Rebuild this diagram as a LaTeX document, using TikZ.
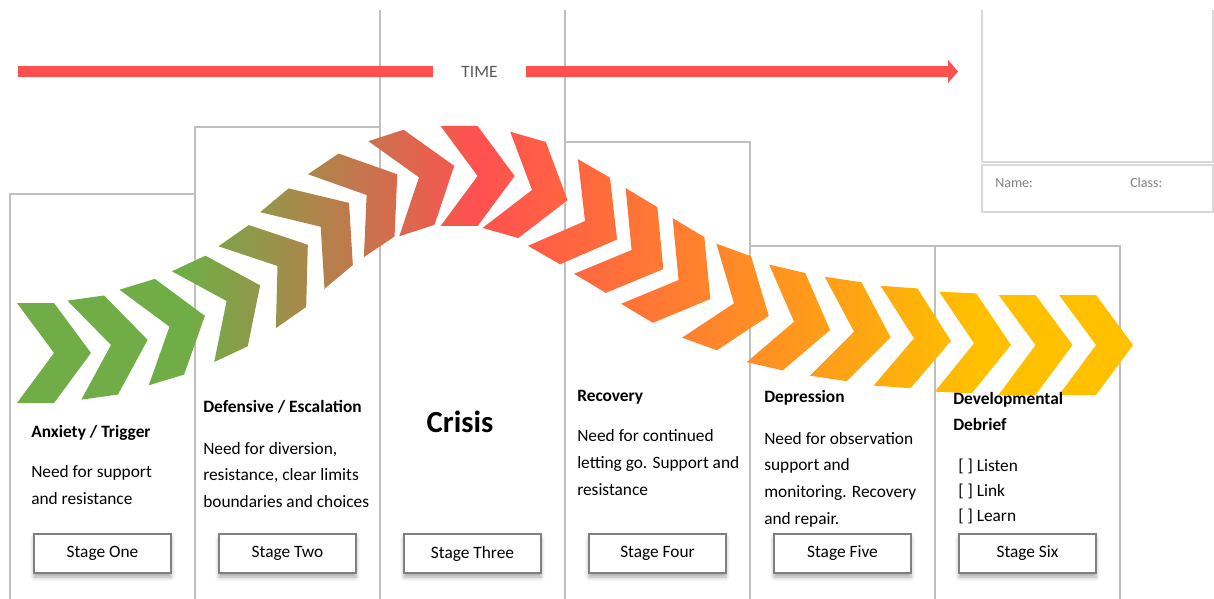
\documentclass[tikz,border=0pt]{standalone}
\usepackage{fontspec}
\setmainfont{Carlito}
\usetikzlibrary{arrows.meta,shadows.blur,positioning}
\definecolor{chgreen}{HTML}{70AD47}
\definecolor{chred}{HTML}{FF5050}
\definecolor{chyellow}{HTML}{FFC000}
\definecolor{colgray}{HTML}{BFBFBF}
\definecolor{boxgray}{HTML}{D9D9D9}
\definecolor{stagegray}{HTML}{7F7F7F}
\definecolor{labelgray}{HTML}{595959}
\pgfdeclarehorizontalshading{chevfade}{100bp}{color(0bp)=(chgreen); color(32.7bp)=(chgreen); color(45.6bp)=(chred); color(68bp)=(chyellow); color(100bp)=(chyellow)}

\begin{document}
\begin{tikzpicture}[x=0.75pt, y=-0.75pt, node distance=138.75pt,
  col/.style={draw=colgray, line width=1.1pt},
  corner/.style={draw=boxgray, line width=1.4pt},
  timebar/.style={draw=chred, line width=7.9pt},
  head/.style={anchor=base west, inner sep=0, font=\fontsize{13}{19.5}\selectfont\bfseries},
  body/.style={anchor=north west, inner sep=0, align=left, font=\fontsize{13}{20}\selectfont},
  stagebox/.style={draw=stagegray, line width=1.2pt, fill=white, minimum width=102.75pt, minimum height=29.25pt, inner sep=0, font=\fontsize{13}{16}\selectfont, blur shadow={shadow xshift=0pt, shadow yshift=-3pt, shadow blur radius=3pt, shadow opacity=35}},
  small/.style={anchor=base west, inner sep=0, text=stagegray, font=\fontsize{10.5}{12}\selectfont}]
	\useasboundingbox (0,0) rectangle (1214,599);
	\draw[col] (10,599) -- (10,194) -- (195,194);
	\draw[col] (195,599) -- (195,127) -- (380,127);
	\draw[col] (380,599) -- (380,10);
	\draw[col] (565,599) -- (565,10);
	\draw[col] (565,142) -- (750,142) -- (750,599);
	\draw[col] (750,246) -- (1120,246) -- (1120,599);
	\draw[col] (935,246) -- (935,599);
	\draw[corner] (982,10) -- (982,162) -- (1213,162) -- (1213,10);
	\draw[corner] (982,165) rectangle (1213,212);
	\node[small] (name) at (995,188) {Name:};
	\node[small] (class) at (1130,188) {Class:};
	\node[inner sep=0, minimum width=69.75pt, text=labelgray, font=\fontsize{13}{16}\selectfont] (time) at (479.5,71.5) {TIME};
	\coordinate (tstart) at (18,71.5);
	\coordinate (tend) at (958,71.5);
	\draw[timebar] (tstart) -- (time);
	\draw[timebar, -{Triangle[length=7.5pt, width=17pt]}] (time) -- (tend);
	\shade[shading=chevfade] \foreach \cx/\cy/\ca in {54/353/0, 111/345/8, 169.5/326.7/17, 226.6/301/25, 277.5/266/35, 320.7/226.7/40, 366.6/195/34, 419/177.3/18, 477.6/176/0, 532/190/-16, 585/221/-30, 631.6/250/-31, 678.6/280/-31, 734/303.3/-20, 794/321.7/-13, 854/331.7/-8.5, 914/338.3/-4, 974/343.3/-2.5, 1035.5/345/0, 1096/345/0} {{[shift={(\cx,\cy)}, rotate=\ca] (-37,-50) -- (0,-50) -- (37,0) -- (0,50) -- (-37,50) -- (0,0) -- cycle}};
	\node[head] (h1) at (31,437) {Anxiety / Trigger};
	\node[head] (h2) at (203,412) {Defensive / Escalation};
	\node[anchor=base, inner sep=0, font=\fontsize{23}{28}\selectfont\bfseries] (h3) at (460,432) {Crisis};
	\node[head] (h4) at (577,401) {Recovery};
	\node[head] (h5) at (764,402) {Depression};
	\node[head, anchor=north west, align=left] (h6) at (953,385.8) {\strut Developmental\\Debrief};
	\node[body] (b1) at (31,458.7) {\strut Need for support\\and resistance};
	\node[body] (b2) at (203,435.3) {\strut Need for diversion,\\resistance, clear limits\\boundaries and choices};
	\node[body] (b4) at (577,423) {\strut Need for continued\\letting go. Support and\\resistance};
	\node[body] (b5) at (764,425.3) {\strut Need for observation\\support and\\monitoring. Recovery\\and repair.};
	\node[body, font=\fontsize{13}{18.75}\selectfont] (b6) at (958,454.2) {\strut{[ ]} Listen\\{[ ]} Link\\{[ ]} Learn};
	\node[stagebox] (s1) at (102.5,553.5) {Stage One};
	\node[stagebox] (s2) [right of=s1] {Stage Two};
	\node[stagebox] (s3) [right of=s2] {Stage Three};
	\node[stagebox] (s4) [right of=s3] {Stage Four};
	\node[stagebox] (s5) [right of=s4] {Stage Five};
	\node[stagebox] (s6) [right of=s5] {Stage Six};
\end{tikzpicture}
\end{document}
